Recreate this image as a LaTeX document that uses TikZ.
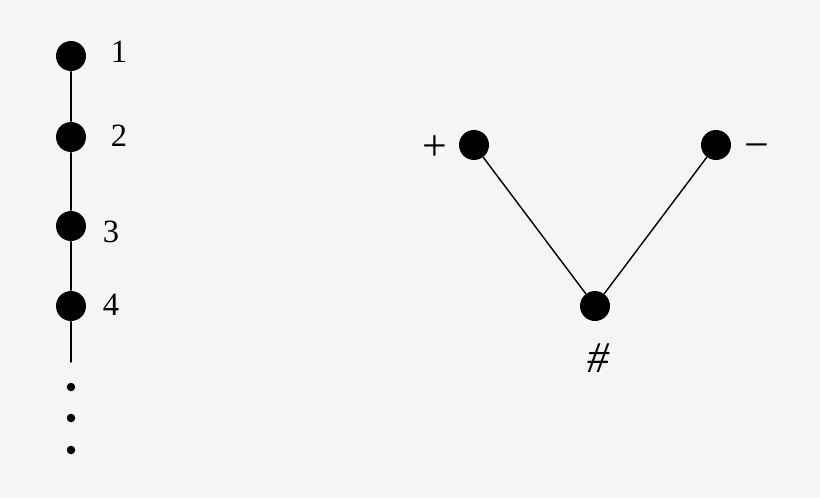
\documentclass[tikz,border=0pt]{standalone}
\usepackage{fontspec}
\setmainfont{Liberation Serif}
\begin{document}
\begin{tikzpicture}[x=0.02cm,y=-0.02cm,line join=round,line cap=round,line width=0.8pt,font=\fontsize{18.5}{20}\selectfont]
	\tikzset{vert/.style={circle,fill=black,inner sep=0pt,minimum size=0.6cm},
		dot/.style={circle,fill=black,inner sep=0pt,minimum size=0.17cm},
		sym/.style={font=\fontsize{25}{28}\selectfont}}
	\fill[black!4] (0,0) rectangle (820,497);
	\useasboundingbox (0,0) rectangle (820,497);
	% the chain on the left
	\foreach \n/\y/\lx/\ly in {1/56/119/52,2/137/119/136,3/226/111/232,4/306/111/305}
	{
		\node[vert] (v\n) at (71,\y) {};
		\node (l\n) at (\lx,\ly) {\n};
	}
	\foreach \a/\b in {v1/v2,v2/v3,v3/v4}
	\draw (\a)--(\b);
	\coordinate (tail) at (71,362);
	\draw (v4)--(tail);
	\foreach \i/\y in {1/387,2/418,3/450}
	\node[dot] (d\i) at (71,\y) {};
	% the V on the right
	\node[vert] (plus) at (474,145) {};
	\node[vert] (minus) at (716,145) {};
	\node[vert] (sharp) at (595,306) {};
	\node[sym] (lplus) at (435,148) {+};
	\node[sym] (lminus) at (757,152) {−};
	\node[sym] (lsharp) at (598,358) {\itshape\#};
	\draw (plus)--(sharp) (sharp)--(minus);
\end{tikzpicture}
\end{document}
